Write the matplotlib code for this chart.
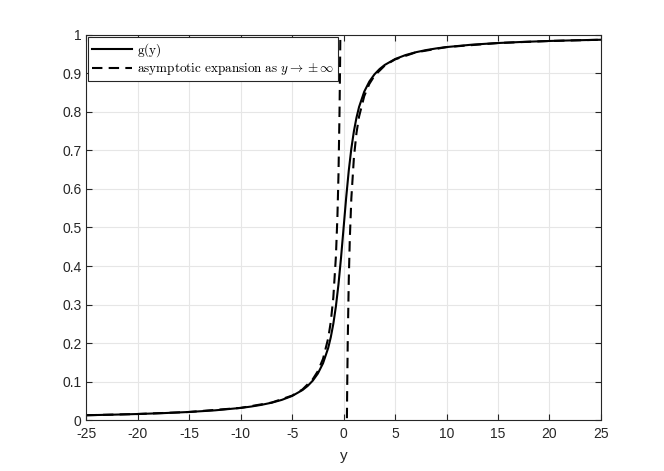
import matplotlib.pyplot as plt
import numpy as np

plt.rcParams['font.family'] = ['Liberation Sans', 'DejaVu Sans']
plt.rcParams['mathtext.fontset'] = 'cm'
plt.rcParams['axes.unicode_minus'] = False

# g(y)
y_g = [-25, -22.5, -20, -17.5, -15, -12.5, -10, -9, -8, -7, -6, -5, -4, -3.5, -3, -2.5, -2,
       -1.5, -1.25, -1, -0.75, -0.5, -0.25, 0, 0.25, 0.5, 0.75, 1, 1.25, 1.5, 2, 2.5, 3,
       3.5, 4, 5, 6, 7, 8, 9, 10, 12.5, 15, 17.5, 20, 22.5, 25]
g_vals = [0.0127, 0.0141, 0.0159, 0.0182, 0.0212, 0.0254, 0.0317, 0.0352, 0.0396, 0.0452,
          0.0526, 0.0628, 0.0780, 0.0886, 0.1024, 0.1211, 0.1476, 0.1872, 0.2148, 0.25,
          0.2952, 0.3524, 0.4220, 0.5, 0.5780, 0.6476, 0.7048, 0.75, 0.7852, 0.8128, 0.8524,
          0.8789, 0.8976, 0.9114, 0.9220, 0.9372, 0.9474, 0.9548, 0.9604, 0.9648, 0.9683,
          0.9746, 0.9788, 0.9818, 0.9841, 0.9859, 0.9873]

# asymptotic expansion, two branches
y_neg = [-25, -20, -15, -10, -7, -5, -4, -3, -2.5, -2, -1.5, -1.25, -1, -0.75, -0.6, -0.5,
         -0.4, -0.35, -0.32]
a_neg = [0.0127, 0.0159, 0.0212, 0.0318, 0.0455, 0.0637, 0.0796, 0.1061, 0.1273, 0.1592,
         0.2122, 0.2546, 0.3183, 0.4244, 0.5305, 0.6366, 0.7958, 0.9095, 0.995]
y_pos = [0.32, 0.35, 0.4, 0.5, 0.6, 0.75, 1, 1.25, 1.5, 2, 2.5, 3, 4, 5, 7, 10, 15, 20, 25]
a_pos = [0.005, 0.0905, 0.2042, 0.3634, 0.4695, 0.5756, 0.6817, 0.7454, 0.7878, 0.8408,
         0.8727, 0.8939, 0.9204, 0.9363, 0.9545, 0.9682, 0.9788, 0.9841, 0.9873]

fig = plt.figure(figsize=(6.64, 4.71), dpi=100)
ax = fig.add_axes([0.13, 0.108, 0.775, 0.818])

ax.plot(y_g, g_vals, color='black', lw=1.5, label=r'$\mathrm{g(y)}$')
ax.plot(y_neg, a_neg, color='black', lw=1.5, dashes=(5, 3),
        label=r'$\mathrm{asymptotic\ expansion\ as\ }y\rightarrow\pm\infty$')
ax.plot(y_pos, a_pos, color='black', lw=1.5, dashes=(5, 3))

ax.set_xlim(-25, 25)
ax.set_ylim(0, 1)
ax.set_xticks(np.arange(-25, 26, 5))
ax.set_yticks(np.arange(0, 1.01, 0.1))
ax.set_yticklabels(['0', '0.1', '0.2', '0.3', '0.4', '0.5', '0.6', '0.7', '0.8', '0.9', '1'])
ax.grid(True, color='#e6e6e6', lw=0.8)
ax.set_axisbelow(True)
ax.tick_params(direction='in', top=True, right=True, labelsize=10, colors='#262626', length=4)
ax.tick_params(axis='x', pad=5)
for s in ax.spines.values():
    s.set_color('#262626')
    s.set_linewidth(0.8)
ax.set_xlabel('y', fontsize=11, color='#262626', labelpad=6)

leg = ax.legend(loc='upper left', fontsize=9.5, handlelength=3, borderaxespad=0.15,
                fancybox=False, edgecolor='#262626', framealpha=1, borderpad=0.3,
                labelspacing=0.2, handletextpad=0.4)
leg.get_frame().set_linewidth(0.8)
leg.set_zorder(1)

fig.savefig('out.png', dpi=100)
